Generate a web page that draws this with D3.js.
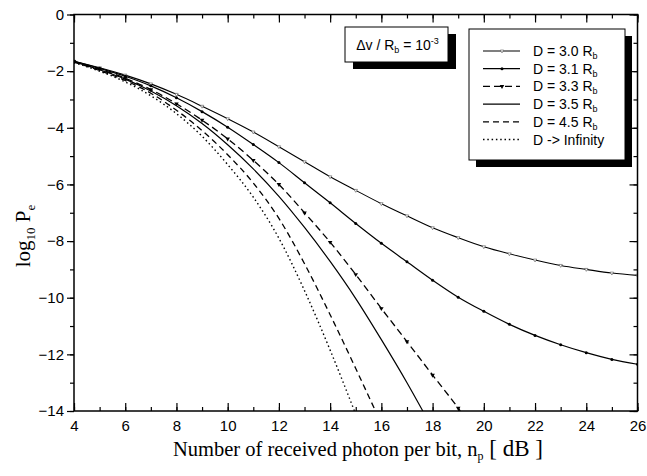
<!DOCTYPE html>
<html>
<head>
<meta charset="utf-8">
<script src="https://cdn.jsdelivr.net/npm/d3@7"></script>
<style>
  html, body { margin: 0; padding: 0; background: #fff; }
  svg { display: block; }
</style>
</head>
<body>
<svg id="chart" width="647" height="476"></svg>
<script>
// ---- data ----
const xTicks = [4, 6, 8, 10, 12, 14, 16, 18, 20, 22, 24, 26];
const yTicks = [0, -2, -4, -6, -8, -10, -12, -14];

const npFull = [4, 5, 6, 7, 8, 9, 10, 11, 12, 13, 14, 15, 16, 17, 18, 19, 20, 21, 22, 23, 24, 25, 26];
const d30 = [-1.65, -1.88, -2.14, -2.45, -2.82, -3.24, -3.68, -4.15, -4.67, -5.20, -5.73, -6.21, -6.68, -7.11, -7.53, -7.88, -8.20, -8.45, -8.67, -8.86, -9.00, -9.13, -9.21];
const d31 = [-1.65, -1.90, -2.18, -2.52, -2.94, -3.43, -3.98, -4.59, -5.23, -5.94, -6.65, -7.38, -8.08, -8.73, -9.38, -9.98, -10.48, -10.94, -11.33, -11.66, -11.94, -12.18, -12.35];

const np33 = [4, 5, 6, 7, 8, 9, 10, 11, 12, 13, 14, 15, 16, 17, 18, 19, 19.08];
const d33 = [-1.66, -1.93, -2.25, -2.65, -3.15, -3.73, -4.39, -5.15, -6.00, -7.00, -8.04, -9.18, -10.38, -11.55, -12.73, -13.90, -14.0];

const np35 = [4, 5, 6, 7, 8, 9, 10, 11, 12, 13, 14, 15, 16, 17, 17.62];
const d35 = [-1.67, -1.95, -2.28, -2.70, -3.22, -3.85, -4.60, -5.45, -6.42, -7.52, -8.72, -10.03, -11.48, -13.00, -14.0];

const np45 = [4, 5, 6, 7, 8, 9, 10, 11, 12, 13, 14, 15, 15.77];
const d45 = [-1.68, -1.98, -2.33, -2.78, -3.38, -4.10, -4.95, -5.95, -7.20, -8.80, -10.60, -12.50, -14.0];

const npInf = [4, 5, 6, 7, 8, 9, 10, 11, 12, 13, 14, 14.95];
const dInf = [-1.70, -2.00, -2.38, -2.87, -3.50, -4.30, -5.30, -6.45, -7.90, -9.75, -11.85, -14.0];

const legendLabels = ["D = 3.0 R", "D = 3.1 R", "D = 3.3 R", "D = 3.5 R", "D = 4.5 R", "D -> Infinity"];

// ---- layout ----
const svg = d3.select("#chart");
const L = 74, R = 637.5, T = 14.5, B = 411;

const x = d3.scaleLinear().domain([4, 26]).range([L, R]);
const y = d3.scaleLinear().domain([0, -14]).range([T, B]);

const series = [
  { xs: npFull, ys: d30, dash: null, width: 1.1, marker: "tri" },
  { xs: npFull, ys: d31, dash: null, width: 1.2, marker: "dot" },
  { xs: np33, ys: d33, dash: "7,4", width: 1.3, marker: "ftri" },
  { xs: np35, ys: d35, dash: null, width: 1.2, marker: null },
  { xs: np45, ys: d45, dash: "6,4", width: 1.3, marker: null },
  { xs: npInf, ys: dInf, dash: "1.5,2.8", width: 1.4, marker: null }
];

svg.append("defs").append("clipPath").attr("id", "clip")
  .append("rect").attr("x", L).attr("y", T).attr("width", R - L).attr("height", B - T);

const line = d3.line().x(d => x(d[0])).y(d => y(d[1])).curve(d3.curveMonotoneX);

function drawMarker(g, type, cx, cy) {
  if (type === "tri") {
    g.append("path").attr("d", d3.symbol(d3.symbolTriangle, 5)())
      .attr("transform", `translate(${cx},${cy}) rotate(180)`)
      .attr("fill", "#fff").attr("stroke", "#555").attr("stroke-width", 0.6);
  } else if (type === "dot") {
    g.append("circle").attr("cx", cx).attr("cy", cy).attr("r", 1.5).attr("fill", "#000");
  } else if (type === "ftri") {
    g.append("path").attr("d", d3.symbol(d3.symbolTriangle, 9)())
      .attr("transform", `translate(${cx},${cy}) rotate(180)`)
      .attr("fill", "#000");
  }
}

const plot = svg.append("g").attr("clip-path", "url(#clip)");
series.forEach(s => {
  const pts = s.xs.map((v, i) => [v, s.ys[i]]);
  plot.append("path").datum(pts).attr("d", line)
    .attr("fill", "none").attr("stroke", "#000")
    .attr("stroke-width", s.width)
    .attr("stroke-dasharray", s.dash);
  if (s.marker) {
    pts.filter(p => Number.isInteger(p[0])).forEach(p => drawMarker(plot, s.marker, x(p[0]), y(p[1])));
  }
});

// ---- axes ----
const fontTick = "'Liberation Sans', Arial, Helvetica, sans-serif";
const minorX = d3.range(4, 27, 1);
const minorY = d3.range(0, -15, -1);

function styleAxis(g) {
  g.select(".domain").remove();
  g.selectAll("line").attr("stroke", "#000").attr("stroke-width", 1.2);
  g.selectAll("text").attr("font-family", fontTick).attr("font-size", 15).attr("fill", "#000");
}

// bottom
svg.append("g").attr("transform", `translate(0,${B})`)
  .call(d3.axisBottom(x).tickValues(minorX).tickSize(-4).tickFormat(""))
  .call(styleAxis);
svg.append("g").attr("transform", `translate(0,${B})`)
  .call(d3.axisBottom(x).tickValues(xTicks).tickSize(-8).tickPadding(9).tickFormat(d3.format("d")))
  .call(styleAxis);
// top
svg.append("g").attr("transform", `translate(0,${T})`)
  .call(d3.axisTop(x).tickValues(minorX).tickSize(-4).tickFormat(""))
  .call(styleAxis);
svg.append("g").attr("transform", `translate(0,${T})`)
  .call(d3.axisTop(x).tickValues(xTicks).tickSize(-8).tickFormat(""))
  .call(styleAxis);
// left
svg.append("g").attr("transform", `translate(${L},0)`)
  .call(d3.axisLeft(y).tickValues(minorY).tickSize(4).tickFormat(""))
  .call(styleAxis);
svg.append("g").attr("transform", `translate(${L},0)`)
  .call(d3.axisLeft(y).tickValues(yTicks).tickSize(7).tickPadding(3).tickFormat(d3.format("d")))
  .call(styleAxis);
// right
svg.append("g").attr("transform", `translate(${R},0)`)
  .call(d3.axisRight(y).tickValues(minorY).tickSize(-4).tickFormat(""))
  .call(styleAxis);
svg.append("g").attr("transform", `translate(${R},0)`)
  .call(d3.axisRight(y).tickValues(yTicks).tickSize(-8).tickFormat(""))
  .call(styleAxis);

// frame
svg.append("rect").attr("x", L).attr("y", T).attr("width", R - L).attr("height", B - T)
  .attr("fill", "none").attr("stroke", "#000").attr("stroke-width", 1.5);

// ---- titles ----
const serif = "'Liberation Serif', 'Times New Roman', Times, serif";
const xt = svg.append("text").attr("x", 358).attr("y", 456).attr("text-anchor", "middle")
  .attr("font-family", serif).attr("font-size", 20.5).attr("fill", "#000");
xt.append("tspan").text("Number of received photon per bit,  n");
xt.append("tspan").attr("font-size", 12).attr("baseline-shift", "-4").text("p");
xt.append("tspan").attr("font-size", 23).text(" [ dB ]");

const yt = svg.append("text").attr("transform", "translate(30,236) rotate(-90)")
  .attr("text-anchor", "middle").attr("font-family", serif).attr("font-size", 21).attr("fill", "#000");
yt.append("tspan").text("log");
yt.append("tspan").attr("font-size", 13).attr("baseline-shift", "-5").text("10");
yt.append("tspan").text(" P");
yt.append("tspan").attr("font-size", 13).attr("baseline-shift", "-5").text("e");

// ---- annotation box ----
const ann = { x: 345, y: 27, w: 103, h: 35 };
svg.append("rect").attr("x", ann.x + 8).attr("y", ann.y + 7).attr("width", ann.w).attr("height", ann.h).attr("fill", "#000");
svg.append("rect").attr("x", ann.x).attr("y", ann.y).attr("width", ann.w).attr("height", ann.h)
  .attr("fill", "#fff").attr("stroke", "#000").attr("stroke-width", 1);
const at = svg.append("text").attr("x", ann.x + ann.w / 2 + 1).attr("y", ann.y + 23).attr("text-anchor", "middle")
  .attr("font-family", fontTick).attr("font-size", 14).attr("fill", "#000");
at.append("tspan").text("Δv / R");
at.append("tspan").attr("font-size", 9).attr("baseline-shift", "-3").text("b");
at.append("tspan").text(" = 10");
at.append("tspan").attr("font-size", 9).attr("baseline-shift", "6").text("-3");

// ---- legend ----
const lg = { x: 469, y: 29, w: 156, h: 131 };
svg.append("rect").attr("x", lg.x + 7).attr("y", lg.y + 7).attr("width", lg.w).attr("height", lg.h).attr("fill", "#000");
svg.append("rect").attr("x", lg.x).attr("y", lg.y).attr("width", lg.w).attr("height", lg.h)
  .attr("fill", "#fff").attr("stroke", "#000").attr("stroke-width", 1);

legendLabels.forEach((lab, i) => {
  const s = series[i];
  const cy = 51 + i * 17.7;
  svg.append("line").attr("x1", 483).attr("x2", 520).attr("y1", cy).attr("y2", cy)
    .attr("stroke", "#000").attr("stroke-width", s.width).attr("stroke-dasharray", s.dash);
  if (s.marker) drawMarker(svg, s.marker, 502, cy);
  const t = svg.append("text").attr("x", 533).attr("y", cy + 5)
    .attr("font-family", fontTick).attr("font-size", 14).attr("fill", "#000");
  t.append("tspan").text(lab);
  if (i < 5) t.append("tspan").attr("font-size", 9).attr("baseline-shift", "-3").text("b");
});
</script>
</body>
</html>
